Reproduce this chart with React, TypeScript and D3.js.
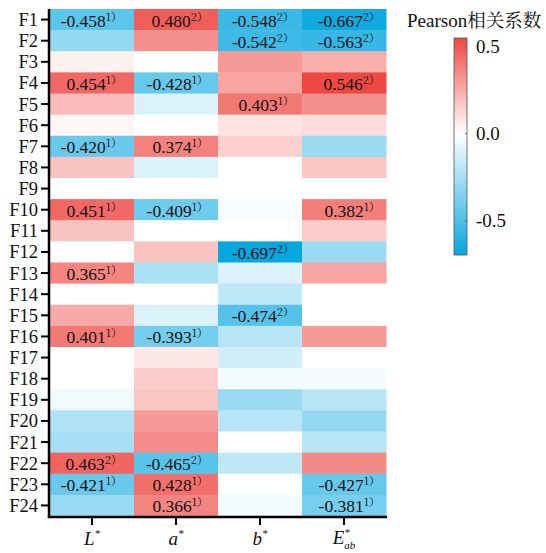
import React, { useEffect } from "react";
import * as d3 from "d3";

const rows = d3.range(1, 25).map((i) => "F" + i);
const cols = ["L", "a", "b", "E"];

// Pearson r per column (F1..F24)
const valuesL = [-0.458, -0.3, 0.04, 0.454, 0.2, 0.03, -0.42, 0.18, 0.0, 0.451, 0.18, 0.0, 0.365, 0.0, 0.25, 0.401, 0.0, 0.0, -0.04, -0.22, -0.25, 0.463, -0.421, -0.29];
const valuesA = [0.48, 0.33, 0.0, -0.428, -0.1, 0.0, 0.374, -0.1, 0.0, -0.409, 0.0, 0.18, -0.24, 0.0, -0.1, -0.393, 0.07, 0.15, 0.17, 0.3, 0.34, -0.465, 0.428, 0.366];
const valuesB = [-0.548, -0.542, 0.3, 0.27, 0.403, 0.08, 0.14, 0.0, 0.0, -0.02, 0.0, -0.697, -0.1, -0.18, -0.474, -0.2, -0.13, -0.03, -0.28, -0.2, 0.0, -0.18, 0.0, -0.04];
const valuesE = [-0.667, -0.563, 0.24, 0.546, 0.33, 0.1, -0.28, 0.17, 0.0, 0.382, 0.15, -0.28, 0.27, 0.0, 0.0, 0.3, 0.0, -0.03, -0.2, -0.3, -0.2, 0.35, -0.427, -0.381];

// significance marks: 0 = none, 1 = 1), 2 = 2)
const sigL = [1, 0, 0, 1, 0, 0, 1, 0, 0, 1, 0, 0, 1, 0, 0, 1, 0, 0, 0, 0, 0, 2, 1, 0];
const sigA = [2, 0, 0, 1, 0, 0, 1, 0, 0, 1, 0, 0, 0, 0, 0, 1, 0, 0, 0, 0, 0, 2, 1, 1];
const sigB = [2, 2, 0, 0, 1, 0, 0, 0, 0, 0, 0, 2, 0, 0, 2, 0, 0, 0, 0, 0, 0, 0, 0, 0];
const sigE = [2, 2, 0, 2, 0, 0, 0, 0, 0, 1, 0, 0, 0, 0, 0, 0, 0, 0, 0, 0, 0, 0, 1, 1];

const legendTicks = [0.5, 0.0, -0.5];

const serif = { fontFamily: "Liberation Serif" };
const cjk = { fontFamily: "Noto Serif CJK SC" };

export default function App() {
  useEffect(() => {
    document.body.style.margin = "0";
  }, []);

  const values = [valuesL, valuesA, valuesB, valuesE];
  const sigs = [sigL, sigA, sigB, sigE];
  const cells: { r: string; c: string; ci: number; v: number; s: number }[] = [];
  cols.forEach((c, ci) => {
    rows.forEach((r, ri) => {
      cells.push({ r, c, ci, v: values[ci][ri], s: sigs[ci][ri] });
    });
  });

  const vmin = d3.min(cells, (d) => d.v) as number;
  const vmax = d3.max(cells, (d) => d.v) as number;

  const x = d3.scaleBand().domain(cols).range([50, 386]).padding(0);
  const y = d3.scaleBand().domain(rows).range([9, 516]).padding(0);
  const color = d3
    .scaleLinear<string>()
    .domain([vmin, 0, vmax])
    .range(["#06a6df", "#ffffff", "#ee4843"]);

  const ly = d3.scaleLinear().domain([vmin, vmax]).range([255, 38]);
  const zeroOffset = (0 - vmin) / (vmax - vmin);

  const bw = x.bandwidth();
  const bh = y.bandwidth();

  return (
    <svg width={546} height={553} style={{ display: "block" }}>
      <defs>
        <linearGradient id="lg" x1="0" y1="1" x2="0" y2="0">
          <stop offset="0" stopColor={color(vmin)} />
          <stop offset={zeroOffset} stopColor="#ffffff" />
          <stop offset="1" stopColor={color(vmax)} />
        </linearGradient>
      </defs>

      {cells.map((d, i) => (
        <rect
          key={i}
          x={x(d.c)}
          y={y(d.r)}
          width={bw + 0.5}
          height={bh + 0.5}
          fill={color(d.v)}
        />
      ))}

      {cells
        .filter((d) => d.s > 0)
        .map((d, i) => (
          <text
            key={"t" + i}
            x={(x(d.c) as number) + bw / 2 + 30 + d.ci * 2}
            y={(y(d.r) as number) + bh / 2 + 7}
            textAnchor="end"
            fontSize={17.5}
            fill="#111"
            style={serif}
          >
            {d.v.toFixed(3)}
            <tspan fontSize={11} dy={-6} style={cjk}>
              {d.s + "）"}
            </tspan>
          </text>
        ))}

      {/* y axis */}
      <line x1={49} x2={49} y1={9} y2={517.5} stroke="#000" strokeWidth={2.5} />
      {rows.map((r) => (
        <g key={r}>
          <line
            x1={41}
            x2={49}
            y1={(y(r) as number) + bh / 2}
            y2={(y(r) as number) + bh / 2}
            stroke="#000"
            strokeWidth={2}
          />
          <text
            x={38}
            y={(y(r) as number) + bh / 2 + 6.5}
            textAnchor="end"
            fontSize={18.5}
            fill="#111"
            style={serif}
          >
            {r}
          </text>
        </g>
      ))}

      {/* x axis */}
      <line x1={47.8} x2={387} y1={517} y2={517} stroke="#000" strokeWidth={2.5} />
      {cols.map((c) => {
        const cx = (x(c) as number) + bw / 2;
        return (
          <g key={c}>
            <line x1={cx} x2={cx} y1={517} y2={525} stroke="#000" strokeWidth={2} />
            {c === "E" ? (
              <text x={cx} y={544} textAnchor="middle" fontSize={19} fontStyle="italic" fill="#111" style={serif}>
                E
                <tspan fontSize={11} dy={-8}>*</tspan>
                <tspan fontSize={11} dx={-5.5} dy={13}>ab</tspan>
              </text>
            ) : (
              <text x={cx} y={545} textAnchor="middle" fontSize={19} fontStyle="italic" fill="#111" style={serif}>
                {c}
                <tspan fontSize={11} dy={-8}>*</tspan>
              </text>
            )}
          </g>
        );
      })}

      {/* legend */}
      <text x={407} y={27} fontSize={19} fill="#111" style={serif}>
        Pearson
        <tspan fontSize={18.5} style={cjk}>相关系数</tspan>
      </text>
      <rect
        x={454}
        y={ly(vmax)}
        width={13}
        height={ly(vmin) - ly(vmax)}
        fill="url(#lg)"
        stroke="#555"
        strokeWidth={0.8}
      />
      {legendTicks.map((t) => (
        <g key={t}>
          <line x1={465} x2={467} y1={ly(t)} y2={ly(t)} stroke="#555" strokeWidth={0.8} />
          <text x={476} y={ly(t) + 6.5} fontSize={19} fill="#111" style={serif}>
            {t.toFixed(1)}
          </text>
        </g>
      ))}
    </svg>
  );
}
